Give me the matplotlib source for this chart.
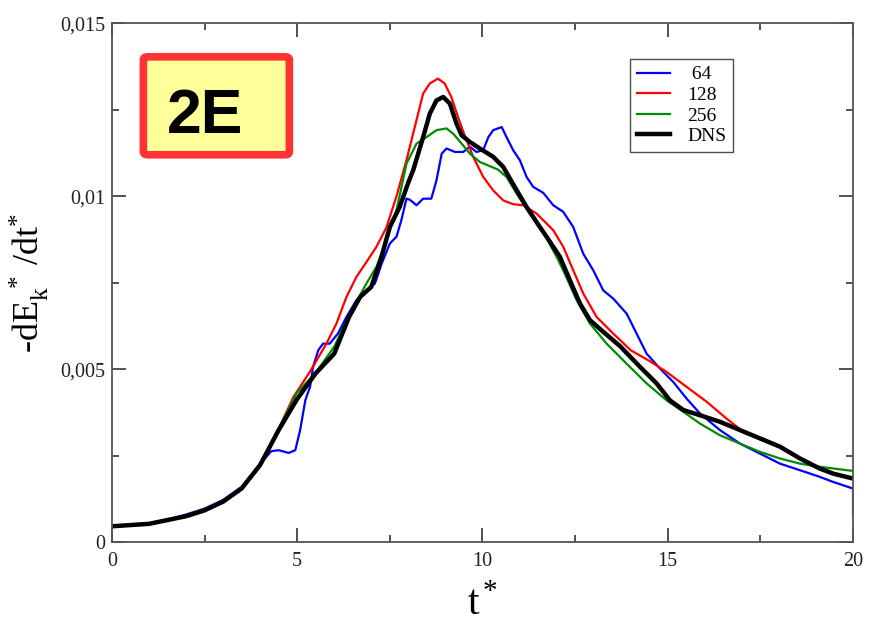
import matplotlib
matplotlib.use("Agg")
import matplotlib.pyplot as plt
from matplotlib.patches import FancyBboxPatch
from matplotlib.ticker import MultipleLocator, FuncFormatter

plt.rcParams['font.family'] = ['Liberation Serif', 'DejaVu Serif']
plt.rcParams['mathtext.fontset'] = 'stix'

# 64 (blue)
t_64 = [0, 1, 1.5, 2, 2.5, 3, 3.5, 4, 4.3, 4.5, 4.77, 4.95, 5.08, 5.22, 5.35, 5.43,
        5.57, 5.7, 5.88, 6.1, 6.33, 6.6, 6.87, 7.1, 7.28, 7.5, 7.68, 7.81, 7.95, 8.04,
        8.22, 8.4, 8.62, 8.76, 8.9, 9.03, 9.26, 9.48, 9.66, 9.84, 10.02, 10.16, 10.29,
        10.52, 10.65, 10.83, 11.01, 11.19, 11.37, 11.64, 11.91, 12.18, 12.45, 12.72,
        12.99, 13.26, 13.53, 13.89, 14.16, 14.43, 14.79, 15.15, 15.51, 15.87, 16.41,
        16.95, 17.49, 18.03, 18.57, 19.1, 19.47, 20, 20]
y_64 = [0.00046, 0.00055, 0.00065, 0.0008, 0.00097, 0.00122, 0.0016, 0.00226, 0.00263,
        0.00266, 0.00258, 0.00266, 0.00324, 0.0041, 0.0045, 0.00507, 0.00555, 0.00574,
        0.00574, 0.00603, 0.00651, 0.007, 0.00728, 0.00748, 0.00805, 0.00863, 0.00883,
        0.0093, 0.00993, 0.0099, 0.00974, 0.00993, 0.00993, 0.01046, 0.01123, 0.01138,
        0.01128, 0.01128, 0.01143, 0.01128, 0.01133, 0.01171, 0.01191, 0.012, 0.01171,
        0.01133, 0.01104, 0.01056, 0.01027, 0.0101, 0.00974, 0.00955, 0.00911, 0.00834,
        0.00786, 0.00728, 0.00704, 0.00661, 0.00603, 0.00545, 0.00502, 0.00463, 0.00415,
        0.00372, 0.00324, 0.00285, 0.00256, 0.00227, 0.00208, 0.00189, 0.00174, 0.00155,
        0.00078]

# 128 (red)
t_128 = [0, 1, 2, 3, 3.5, 4, 4.5, 4.9, 5.34, 5.79, 6.06, 6.33, 6.6, 6.87, 7.14, 7.41,
         7.68, 7.95, 8.22, 8.4, 8.58, 8.8, 8.98, 9.16, 9.34, 9.52, 9.75, 10.02, 10.29,
         10.56, 10.83, 11.1, 11.46, 11.91, 12.18, 12.45, 12.72, 13.08, 13.53, 14.0,
         14.52, 14.97, 15.51, 16.05, 16.59, 17.04, 17.49, 18.03, 18.57, 19.1, 19.47, 20]
y_128 = [0.00046, 0.00054, 0.00076, 0.00118, 0.00156, 0.00225, 0.00328, 0.0042, 0.00492,
         0.00574, 0.00632, 0.00709, 0.00767, 0.0081, 0.00854, 0.0091, 0.01, 0.01104,
         0.0122, 0.01297, 0.01326, 0.0134, 0.01326, 0.01287, 0.01229, 0.01176, 0.01114,
         0.01056, 0.01017, 0.00988, 0.00977, 0.00974, 0.0095, 0.00902, 0.00854, 0.00786,
         0.00719, 0.00651, 0.00603, 0.00555, 0.00523, 0.00492, 0.00449, 0.00406, 0.00357,
         0.00319, 0.00298, 0.00274, 0.00242, 0.00213, 0.00198, 0.00186]

# 256 (green)
t_256 = [0, 1, 2, 3, 3.5, 4, 4.5, 4.98, 5.5, 6.0, 6.42, 6.87, 7.14, 7.41, 7.68, 7.95,
         8.22, 8.49, 8.76, 9.03, 9.21, 9.44, 9.66, 9.93, 10.2, 10.42, 10.65, 10.92,
         11.28, 11.64, 12.0, 12.18, 12.54, 12.9, 13.35, 13.89, 14.43, 14.97, 15.42,
         15.87, 16.41, 16.95, 17.49, 18.03, 18.57, 19.1, 20]
y_256 = [0.00046, 0.00053, 0.00075, 0.00117, 0.00155, 0.00224, 0.00326, 0.0043, 0.0049,
         0.00565, 0.0066, 0.00748, 0.00796, 0.00873, 0.0096, 0.01094, 0.01152, 0.01171,
         0.01191, 0.01196, 0.01181, 0.01152, 0.01123, 0.01099, 0.01087, 0.01077, 0.01056,
         0.01008, 0.0095, 0.00897, 0.00825, 0.00786, 0.007, 0.00632, 0.00574, 0.00516,
         0.00459, 0.0041, 0.00377, 0.00343, 0.00309, 0.00285, 0.00261, 0.00242, 0.00227,
         0.00218, 0.00206]

# DNS (black)
t_dns = [0, 1, 2, 2.5, 3, 3.5, 4, 4.5, 5, 5.5, 6, 6.4, 6.7, 7.0, 7.25, 7.5, 7.77, 8.0,
         8.13, 8.4, 8.58, 8.76, 8.94, 9.12, 9.3, 9.44, 9.66, 9.93, 10.29, 10.56, 10.8,
         11.19, 11.55, 11.73, 12.09, 12.36, 12.63, 12.9, 13.26, 13.71, 14.25, 14.7,
         15.06, 15.42, 15.87, 16.41, 16.95, 17.49, 18.03, 18.57, 19.1, 19.47, 20]
y_dns = [0.00046, 0.00053, 0.00075, 0.00092, 0.00117, 0.00155, 0.00223, 0.00324, 0.00414,
         0.00488, 0.00545, 0.00651, 0.00709, 0.00738, 0.00815, 0.00911, 0.0097, 0.0104,
         0.01075, 0.01171, 0.01239, 0.01277, 0.01287, 0.01268, 0.0121, 0.01176, 0.01157,
         0.01138, 0.01114, 0.01085, 0.0104, 0.00969, 0.00911, 0.00883, 0.00825, 0.00757,
         0.0069, 0.00642, 0.00608, 0.00567, 0.00507, 0.00459, 0.0041, 0.00382, 0.00367,
         0.00348, 0.00324, 0.003, 0.00276, 0.00242, 0.00213, 0.00198, 0.00184]

x_ticks = [0, 5, 10, 15, 20]
y_ticks = [0, 0.005, 0.01, 0.015]

fig = plt.figure(figsize=(8.74, 6.29), dpi=100)
ax = fig.add_axes([0.128, 0.138, 0.848, 0.825])

ax.plot(t_64, y_64, color='#0000FF', lw=1.6, label=' 64', solid_joinstyle='round')
ax.plot(t_128, y_128, color='#FF0000', lw=1.6, label='128', solid_joinstyle='round')
ax.plot(t_256, y_256, color='#008B00', lw=1.6, label='256', solid_joinstyle='round')
ax.plot(t_dns, y_dns, color='black', lw=3.2, label='DNS', solid_joinstyle='round')

ax.set_xlim(0, 20)
ax.set_ylim(0, 0.015)
ax.set_xticks(x_ticks)
ax.set_yticks(y_ticks)
ax.xaxis.set_minor_locator(MultipleLocator(2.5))
ax.yaxis.set_minor_locator(MultipleLocator(0.0025))

def comma_fmt(v, pos):
    if v == 0:
        return '0'
    return ('%g' % v).replace('.', ',')

ax.xaxis.set_major_formatter(FuncFormatter(lambda v, p: '%d' % v))
ax.yaxis.set_major_formatter(FuncFormatter(comma_fmt))

ax.tick_params(which='both', direction='in', top=True, right=True,
               color='#333333', labelsize=14.5, labelcolor='#222222')
ax.tick_params(which='major', length=10, width=1.2)
ax.tick_params(which='minor', length=5, width=1.2)
ax.tick_params(axis='x', pad=7)
ax.tick_params(axis='y', pad=5)
for s in ax.spines.values():
    s.set_color('#555555')
    s.set_linewidth(1.3)

ax.set_ylabel(r'-dE$_{\mathregular{k}}^{\ \ \mathregular{*}}$ /dt$^{\mathregular{*}}$',
              fontsize=26, labelpad=6)
ax.set_xlabel(r't$^{\,\mathregular{*}}$', fontsize=30, labelpad=10)

leg = ax.legend(loc='upper left', bbox_to_anchor=(0.699, 0.931), fontsize=14,
                frameon=True, fancybox=False, handlelength=1.7, handletextpad=0.9,
                labelspacing=0.15, borderpad=0.35, borderaxespad=0)
leg.get_frame().set_edgecolor('#222222')
leg.get_frame().set_linewidth(1.0)

box = FancyBboxPatch((0.0425, 0.7466), 0.197, 0.1888, transform=ax.transAxes,
                     boxstyle='round,pad=0,rounding_size=0.006',
                     fc='#FFFF99', ec='#FF3333', lw=5.5, zorder=5)
ax.add_patch(box)
ax.text(0.1255, 0.788, '2E', transform=ax.transAxes, fontsize=45,
        fontweight='bold', family='Liberation Sans', ha='center', va='baseline',
        zorder=6)

fig.savefig('out.png', dpi=100)
